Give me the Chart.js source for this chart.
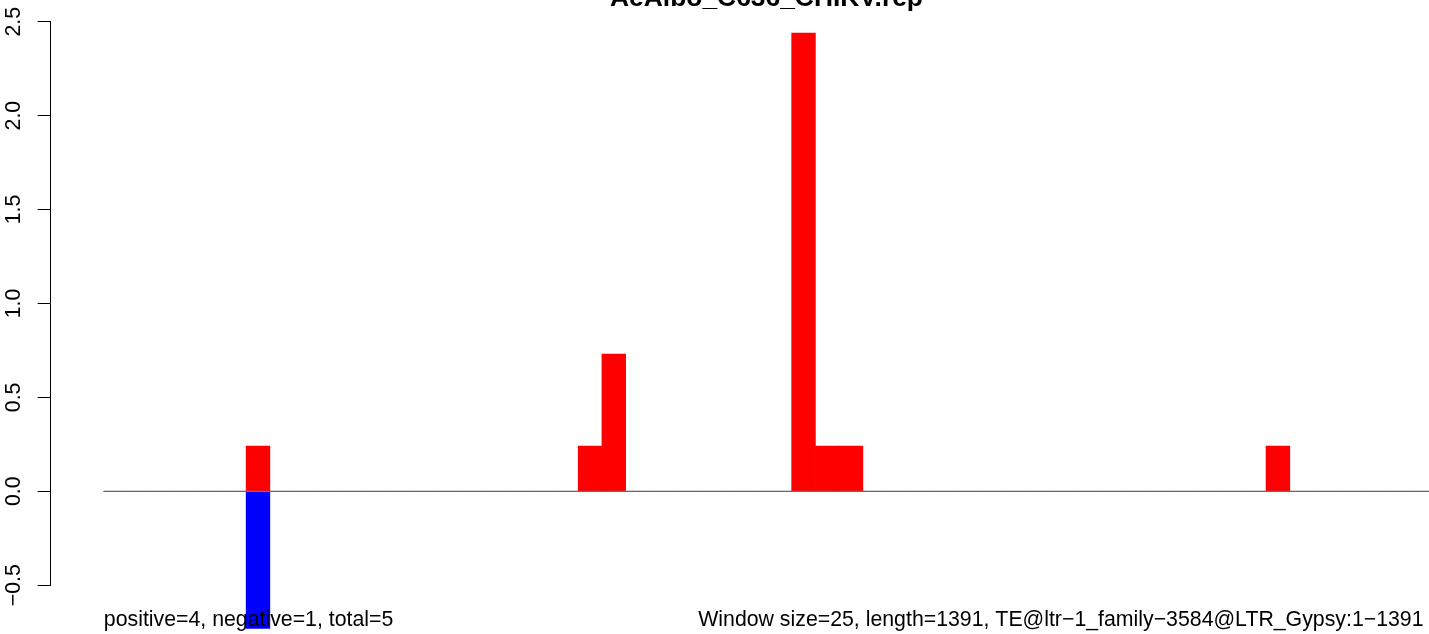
<!DOCTYPE html>
<html lang="en">
<head>
  <meta charset="UTF-8">
  <title>AeAlbo_C636_CHIKV.rep</title>
  <script src="https://cdn.jsdelivr.net/npm/chart.js"></script>
  <style>
    body { margin: 0; background: #fff; }
    canvas { display: block; }
  </style>
</head>
<body>
  <canvas id="chart" width="1429" height="634"></canvas>

  <script>
    // Window start index (window size 25 bp, 56 windows)
    const windowSize = 25;
    const seqLength = 1391;
    const windows = Array.from({length: 56}, (_, i) => i);

    // Bar heights per window (only non-empty windows listed)
    const posWindows = [6, 20, 21, 29, 30, 31, 49];
    const posValues = [0.24, 0.24, 0.73, 2.44, 0.24, 0.24, 0.24];
    const negWindows = [6];
    const negValues = [-0.73];

    const yTicks = [-0.5, 0.0, 0.5, 1.0, 1.5, 2.0, 2.5];

    const titleText = 'AeAlbo_C636_CHIKV.rep';
    const footLeft = 'positive=4, negative=1, total=5';
    const footRight = 'Window size=25, length=1391, TE@ltr\u22121_family\u22123584@LTR_Gypsy:1\u22121391';

    const FONT = '"Liberation Sans", Arial, Helvetica, sans-serif';

    function seriesFor(idx, vals) {
      return windows.map(i => {
        const k = idx.indexOf(i);
        return {x: i + 0.5, y: k >= 0 ? vals[k] : 0};
      });
    }

    // title + bottom notes
    const notes = {
      id: 'notes',
      afterDraw(chart) {
        const ctx = chart.ctx;
        const xs = chart.scales.x;
        ctx.save();
        ctx.fillStyle = '#000';
        ctx.textBaseline = 'alphabetic';
        ctx.font = 'bold 26.4px ' + FONT;
        ctx.textAlign = 'center';
        ctx.fillText(titleText, 766.5, 6);
        ctx.font = '21.3px ' + FONT;
        ctx.textAlign = 'left';
        ctx.fillText(footLeft, xs.getPixelForValue(0), 626);
        ctx.textAlign = 'right';
        ctx.fillText(footRight, xs.getPixelForValue(seqLength / windowSize), 626);
        ctx.restore();
      }
    };

    new Chart(document.getElementById('chart'), {
      type: 'bar',
      data: {
        datasets: [
          {
            type: 'line',
            data: [{x: 0, y: 0}, {x: windows.length, y: 0}],
            borderColor: '#6b6b6b',
            borderWidth: 1,
            pointRadius: 0
          },
          {
            data: seriesFor(posWindows, posValues),
            backgroundColor: '#ff0000',
            borderWidth: 0,
            grouped: false,
            barPercentage: 1,
            categoryPercentage: 1,
            clip: false
          },
          {
            data: seriesFor(negWindows, negValues),
            backgroundColor: '#0000ff',
            borderWidth: 0,
            grouped: false,
            barPercentage: 1,
            categoryPercentage: 1,
            clip: false
          }
        ]
      },
      options: {
        responsive: false,
        animation: false,
        layout: { padding: { top: 21.7, bottom: 48.8, left: 0, right: 0 } },
        plugins: {
          legend: { display: false },
          tooltip: { enabled: false }
        },
        scales: {
          x: {
            type: 'linear',
            display: false,
            offset: false,
            min: -2.24,
            max: 55.87
          },
          y: {
            min: -0.5,
            max: 2.5,
            afterFit: s => { s.width = 50.7; },
            afterBuildTicks: s => { s.ticks = yTicks.map(v => ({value: v})); },
            border: { display: true, color: '#000', width: 1 },
            grid: { drawOnChartArea: false, drawTicks: true, tickLength: 13, color: '#000', lineWidth: 1 },
            ticks: {
              minRotation: 90,
              maxRotation: 90,
              crossAlign: 'center',
              padding: 3,
              color: '#000',
              font: { family: FONT, size: 21.3 },
              callback: v => v.toFixed(1).replace('-', '\u2212')
            }
          }
        }
      },
      plugins: [notes]
    });
  </script>
</body>
</html>
